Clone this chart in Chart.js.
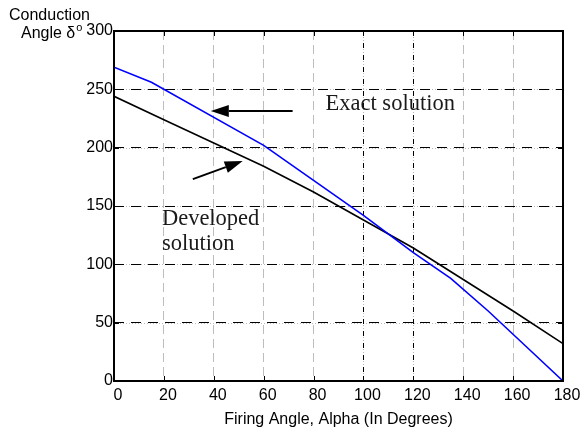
<!DOCTYPE html>
<html lang="en">
<head>
  <meta charset="UTF-8">
  <title>Conduction angle vs firing angle</title>
  <script src="https://cdn.jsdelivr.net/npm/chart.js"></script>
  <style>
    html, body { margin: 0; padding: 0; background: #fff; }
    #wrap { width: 585px; height: 430px; }
  </style>
</head>
<body>
  <div id="wrap"><canvas id="grafico" width="585" height="430"></canvas></div>

  <script>
    // valores
    const alphaExact = [0, 15, 60, 80, 100, 120, 135, 150, 165, 180];
    const deltaExact = [269, 256, 202, 172, 142, 110, 88, 60, 30, 0];
    const alphaDeveloped = [0, 20, 40, 60, 80, 100, 120, 140, 160, 180];
    const deltaDeveloped = [244, 224, 204, 184, 162, 138, 114, 87, 60, 32];
    const xTicks = [0, 20, 40, 60, 80, 100, 120, 140, 160, 180];
    const yTicks = [0, 50, 100, 150, 200, 250, 300];

    const sans = 'Arial, "Liberation Sans", Helvetica, sans-serif';
    const serif = '"Times New Roman", "Liberation Serif", serif';

    function pontos(xs, ys) {
      return xs.map((x, i) => ({ x: x, y: ys[i] }));
    }

    // grade pontilhada cinza por baixo dos tracos pretos
    const gradeCinza = {
      id: 'gradeCinza',
      beforeDraw(chart) {
        const { ctx, chartArea: a, scales: { x, y } } = chart;
        ctx.save();
        ctx.strokeStyle = '#b8b8b8';
        ctx.lineWidth = 1;
        ctx.setLineDash([1, 2]);
        yTicks.forEach(v => {
          const py = Math.round(y.getPixelForValue(v)) + 0.5;
          ctx.beginPath(); ctx.moveTo(a.left, py); ctx.lineTo(a.right, py); ctx.stroke();
        });
        [100, 120].forEach(v => {
          const px = Math.round(x.getPixelForValue(v)) + 0.5;
          ctx.beginPath(); ctx.moveTo(px, a.top); ctx.lineTo(px, a.bottom); ctx.stroke();
        });
        ctx.restore();
      }
    };

    // moldura, marcas internas e anotacoes
    const moldura = {
      id: 'moldura',
      afterDraw(chart) {
        const { ctx, chartArea: a, scales: { x, y } } = chart;
        ctx.save();
        ctx.strokeStyle = '#000';
        ctx.lineWidth = 1;
        ctx.setLineDash([]);
        xTicks.forEach(v => {
          const px = Math.round(x.getPixelForValue(v)) + 0.5;
          ctx.beginPath();
          ctx.moveTo(px, a.bottom); ctx.lineTo(px, a.bottom - 5);
          ctx.moveTo(px, a.top); ctx.lineTo(px, a.top + 5);
          ctx.stroke();
        });
        yTicks.forEach(v => {
          const py = Math.round(y.getPixelForValue(v)) + 0.5;
          ctx.beginPath();
          ctx.moveTo(a.left, py); ctx.lineTo(a.left + 5, py);
          ctx.moveTo(a.right, py); ctx.lineTo(a.right - 5, py);
          ctx.stroke();
        });
        ctx.lineWidth = 2;
        ctx.strokeRect(a.left, a.top, a.right - a.left, a.bottom - a.top);

        // titulo do eixo y (horizontal, no canto)
        ctx.fillStyle = '#000';
        ctx.font = '16px ' + sans;
        ctx.textAlign = 'left';
        ctx.textBaseline = 'middle';
        ctx.fillText('Conduction', 9, 16);
        ctx.fillText('Angle \u03b4', 21, 34);
        const w = ctx.measureText('Angle \u03b4').width;
        ctx.font = '11px ' + sans;
        ctx.fillText('o', 21 + w + 1, 28);

        // textos das curvas
        ctx.fillStyle = '#1a1a1a';
        ctx.font = '22.5px ' + serif;
        ctx.textBaseline = 'alphabetic';
        ctx.fillText('Exact solution', x.getPixelForValue(84.8), y.getPixelForValue(232));
        ctx.fillText('Developed', x.getPixelForValue(19.2), y.getPixelForValue(134));
        ctx.fillText('solution', x.getPixelForValue(19.2), y.getPixelForValue(112.5));

        seta(ctx, x.getPixelForValue(71.6), y.getPixelForValue(231.4),
                  x.getPixelForValue(38.8), y.getPixelForValue(231.4));
        seta(ctx, x.getPixelForValue(31.6), y.getPixelForValue(173),
                  x.getPixelForValue(51.6), y.getPixelForValue(188.6));
        ctx.restore();
      }
    };

    function seta(ctx, x0, y0, x1, y1) {
      const ang = Math.atan2(y1 - y0, x1 - x0);
      const len = 18, half = 6;
      const bx = x1 - len * Math.cos(ang), by = y1 - len * Math.sin(ang);
      ctx.strokeStyle = '#000';
      ctx.fillStyle = '#000';
      ctx.lineWidth = 2;
      ctx.beginPath(); ctx.moveTo(x0, y0); ctx.lineTo(bx, by); ctx.stroke();
      ctx.beginPath();
      ctx.moveTo(x1, y1);
      ctx.lineTo(bx + half * Math.sin(ang), by - half * Math.cos(ang));
      ctx.lineTo(bx - half * Math.sin(ang), by + half * Math.cos(ang));
      ctx.closePath();
      ctx.fill();
    }

    new Chart(document.getElementById('grafico').getContext('2d'), {
      type: 'line',
      data: {
        datasets: [
          {
            label: 'Exact solution',
            data: pontos(alphaExact, deltaExact),
            borderColor: '#0000ff',
            borderWidth: 1.6,
            pointRadius: 0,
            tension: 0
          },
          {
            label: 'Developed solution',
            data: pontos(alphaDeveloped, deltaDeveloped),
            borderColor: '#000',
            borderWidth: 1.6,
            pointRadius: 0,
            tension: 0
          }
        ]
      },
      options: {
        responsive: false,
        animation: false,
        events: [],
        layout: { padding: { top: 31, right: 22, left: 0, bottom: 0 } },
        plugins: {
          legend: { display: false },
          tooltip: { enabled: false },
          title: { display: false }
        },
        scales: {
          x: {
            type: 'linear',
            min: 0,
            max: 180,
            afterBuildTicks: s => { s.ticks = xTicks.map(v => ({ value: v })); },
            afterFit: s => { s.height = 49; },
            grid: {
              drawTicks: false,
              color: c => (c.tick && (c.tick.value === 100 || c.tick.value === 120)) ? '#000' : '#bdbdbd',
              lineWidth: 1
            },
            border: {
              display: false,
              dash: c => (c.tick && (c.tick.value === 100 || c.tick.value === 120)) ? [5, 7] : [9, 5]
            },
            ticks: {
              color: '#000',
              padding: 5,
              labelOffset: 4,
              maxRotation: 0,
              font: { family: sans, size: 16 }
            },
            title: {
              display: true,
              text: 'Firing Angle, Alpha (In Degrees)',
              color: '#000',
              padding: { top: 0, bottom: 1 },
              font: { family: sans, size: 16 }
            }
          },
          y: {
            min: 0,
            max: 300,
            afterBuildTicks: s => { s.ticks = yTicks.map(v => ({ value: v })); },
            afterFit: s => { s.width = 114; },
            grid: {
              drawTicks: false,
              color: '#000',
              lineWidth: 1
            },
            border: { display: false, dash: [10, 7] },
            ticks: {
              color: '#000',
              padding: 1,
              font: { family: sans, size: 16 }
            }
          }
        }
      },
      plugins: [gradeCinza, moldura]
    });
  </script>
</body>
</html>
